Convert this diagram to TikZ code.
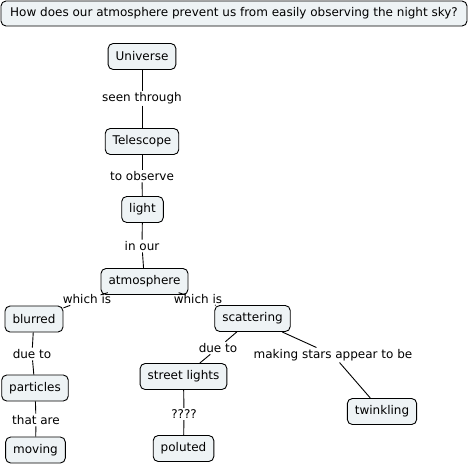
\documentclass[tikz,border=0pt]{standalone}
\usepackage{fontspec}
\setmainfont{DejaVu Sans}
\definecolor{nodefill}{HTML}{EEF3F5}
\begin{document}
\begin{tikzpicture}[x=1pt,y=-1pt,
  concept/.style={draw=black,fill=nodefill,rounded corners=5pt,line width=0.9pt,
    minimum height=26pt,inner xsep=7.5pt,font=\fontsize{12}{14}\selectfont},
  linklab/.style={inner sep=1.5pt,font=\fontsize{12}{14}\selectfont},
  conn/.style={line width=0.9pt}]
\useasboundingbox (0,0) rectangle (470,467);
\node[concept,minimum height=25pt,minimum width=466pt] (q) at (234,13.5) {How does our atmosphere prevent us from easily observing the night sky?};
\node[concept] (universe) at (142,56.5) {Universe};
\node[linklab] (l1) at (142,98) {seen through};
\node[concept] (telescope) at (142,141.5) {Telescope};
\node[linklab] (l2) at (142,176) {to observe};
\node[concept] (light) at (142.5,209.5) {light};
\node[linklab] (l3) at (142,246) {in our};
\node[concept] (atmo) at (144.5,281.5) {atmosphere};
\node[linklab] (l4) at (87,299) {which is};
\node[linklab] (l5) at (198,299) {which is};
\node[concept] (blurred) at (34,319) {blurred};
\node[linklab] (l6) at (32,354) {due to};
\node[concept] (particles) at (35,388) {particles};
\node[linklab] (l7) at (36,420) {that are};
\node[concept] (moving) at (35.5,450) {moving};
\node[concept] (scatter) at (252.5,318.5) {scattering};
\node[linklab] (l8) at (218,348) {due to};
\node[concept] (street) at (183.5,376.5) {street lights};
\node[linklab] (l9) at (184,414) {????};
\node[concept] (poluted) at (183.5,448.5) {poluted};
\node[linklab] (l10) at (333,355) {making stars appear to be};
\node[concept] (twinkling) at (382,411.5) {twinkling};
\draw[conn] (universe) -- (l1);
\draw[conn] (l1) -- (telescope);
\draw[conn] (telescope) -- (l2);
\draw[conn] (l2) -- (light);
\draw[conn] (light) -- (l3);
\draw[conn] (l3) -- (atmo);
\draw[conn] (atmo) -- (l4);
\draw[conn] (l4) -- (blurred);
\draw[conn] (atmo) -- (l5);
\draw[conn] (l5) -- (scatter);
\draw[conn] (blurred) -- (l6);
\draw[conn] (l6) -- (particles);
\draw[conn] (particles) -- (l7);
\draw[conn] (l7) -- (moving);
\draw[conn] (scatter) -- (l8);
\draw[conn] (l8) -- (street);
\draw[conn] (street) -- (l9);
\draw[conn] (l9) -- (poluted);
\draw[conn] (scatter) -- (l10);
\draw[conn] (l10) -- (twinkling);
\end{tikzpicture}
\end{document}
